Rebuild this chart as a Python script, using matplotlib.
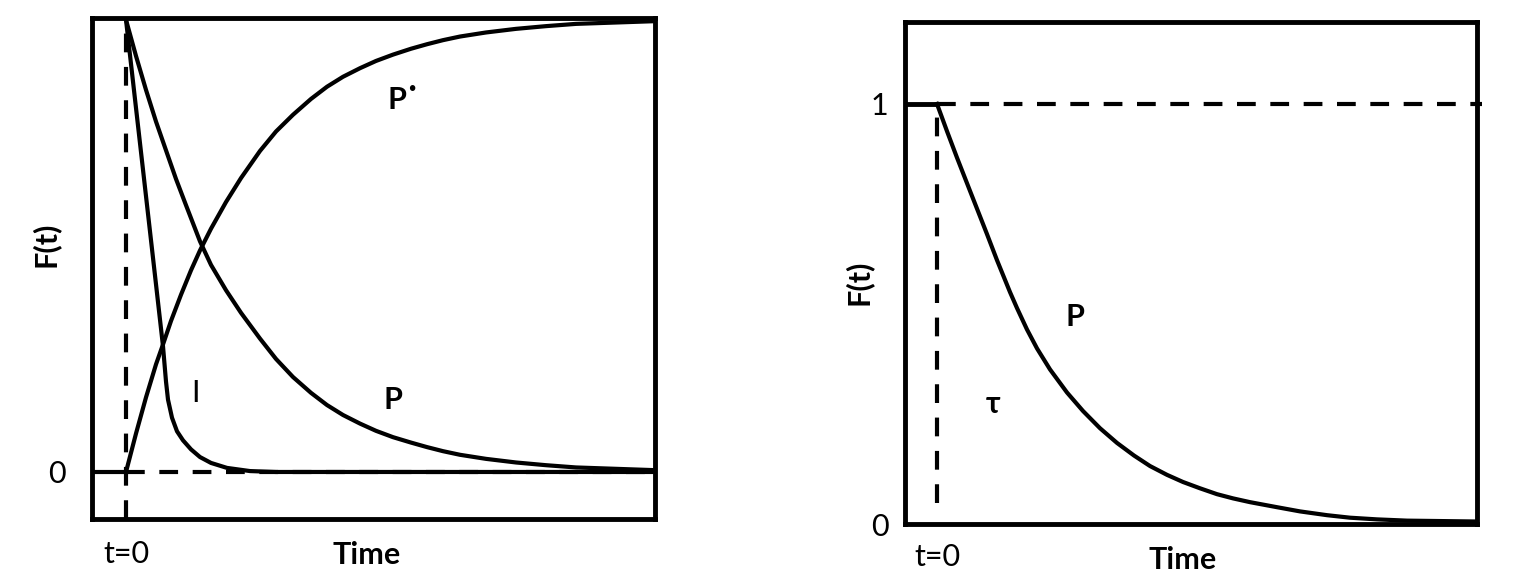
import numpy as np
import matplotlib
matplotlib.use("Agg")
import matplotlib.pyplot as plt

plt.rcParams['font.family'] = ['Lato', 'DejaVu Sans']

# left panel: values (time in arbitrary units, t=0 at the dashed line)
t_pstar = [0.0, 0.1, 0.2, 0.3, 0.37, 0.45, 0.55, 0.65, 0.74, 0.85, 1.0, 1.15, 1.34, 1.5,
           1.67, 1.85, 2.01, 2.17, 2.34, 2.5, 2.67, 2.85, 3.01, 3.17, 3.34, 3.6, 3.9, 4.2, 4.5, 5.29]
f_pstar = [0.0, 0.085, 0.165, 0.238, 0.282, 0.334, 0.392, 0.446, 0.49, 0.538, 0.597, 0.65, 0.71, 0.753,
           0.79, 0.825, 0.852, 0.874, 0.893, 0.909, 0.923, 0.936, 0.946, 0.955, 0.963, 0.972, 0.98, 0.986, 0.991, 0.997]

t_p = [0.0, 0.1, 0.2, 0.3, 0.41, 0.5, 0.6, 0.74, 0.85, 1.0, 1.15, 1.34, 1.5, 1.67, 1.85, 2.01,
       2.17, 2.34, 2.5, 2.67, 2.85, 3.01, 3.17, 3.34, 3.6, 3.9, 4.2, 4.5, 5.29]
f_p = [1.0, 0.92, 0.845, 0.775, 0.705, 0.648, 0.59, 0.51, 0.458, 0.402, 0.352, 0.295, 0.25, 0.21, 0.175, 0.148,
       0.126, 0.107, 0.091, 0.077, 0.065, 0.055, 0.046, 0.038, 0.029, 0.021, 0.015, 0.010, 0.004]

t_i = [0.0, 0.1, 0.2, 0.3, 0.37, 0.40, 0.42, 0.46, 0.51, 0.57, 0.65, 0.74, 0.85, 1.01, 1.24, 1.5, 5.29]
f_i = [1.0, 0.805, 0.61, 0.415, 0.278, 0.2, 0.16, 0.12, 0.09, 0.07, 0.05, 0.033, 0.02, 0.009, 0.002, 0.0, 0.0]

# right panel
t_r = [0.0, 0.1, 0.2, 0.33, 0.5, 0.6, 0.73, 0.8, 0.9, 1.0, 1.13, 1.3, 1.46, 1.63, 1.8, 1.97, 2.13, 2.3,
       2.46, 2.63, 2.8, 2.96, 3.13, 3.4, 3.63, 3.9, 4.13, 4.4, 4.7, 5.38]
f_r = [1.0, 0.935, 0.872, 0.793, 0.69, 0.628, 0.552, 0.514, 0.463, 0.418, 0.368, 0.313, 0.269, 0.228, 0.193,
       0.163, 0.138, 0.117, 0.10, 0.085, 0.071, 0.061, 0.052, 0.040, 0.030, 0.021, 0.015, 0.011, 0.008, 0.006]

lw_spine = 3.5
lw_curve = 3.0
dash = (0, (4.5, 3.5))
fs = 22

fig = plt.figure(figsize=(15.36, 5.78), dpi=100)
ax1 = fig.add_axes([92 / 1536, (578 - 519) / 578, (655 - 92) / 1536, (519 - 18) / 578])
ax2 = fig.add_axes([905 / 1536, (578 - 524) / 578, (1477 - 905) / 1536, (524 - 22) / 578])

# ---- left
ax1.set_xlim(-0.34, 5.29)
ax1.set_ylim(-0.104, 1.004)
ax1.plot([0, 0], [-0.104, 1.0], ls=dash, color='black', lw=lw_curve)
ax1.plot([-0.34, 0], [0, 0], color='black', lw=lw_curve)
ax1.plot([0, 5.29], [0, 0], ls=dash, color='black', lw=lw_curve)
ax1.plot(t_pstar, f_pstar, color='black', lw=lw_curve)
ax1.plot(t_p, f_p, color='black', lw=lw_curve)
ax1.plot(t_i, f_i, color='black', lw=lw_curve)

ax1.set_xticks([0])
ax1.set_xticklabels(['t=0'])
ax1.set_yticks([0])
ax1.set_yticklabels(['0'])
ax1.tick_params(axis='y', pad=19)
ax1.tick_params(axis='x', pad=15)
ax1.text(0.488, -0.072, 'Time', transform=ax1.transAxes, fontweight='bold', fontsize=fs,
         ha='center', va='center')
ax1.text(-0.083, 0.548, 'F(t)', transform=ax1.transAxes, fontweight='bold', fontsize=fs,
         rotation=90, ha='center', va='center')

ax1.text(2.71, 0.823, 'P', fontweight='bold', fontsize=fs, ha='center', va='center')
ax1.text(2.86, 0.85, '•', fontweight='bold', fontsize=9, ha='center', va='center')
ax1.text(2.67, 0.159, 'P', fontweight='bold', fontsize=fs, ha='center', va='center')
ax1.text(0.69, 0.175, 'I', fontsize=fs, ha='center', va='center')

# ---- right
ax2.set_xlim(-0.32, 5.4)
ax2.set_ylim(0, 1.195)
ax2.plot([0, 0], [0.05, 1.0], ls=dash, color='black', lw=lw_curve)
ax2.plot([0, 5.45], [1, 1], ls=dash, color='black', lw=lw_curve, clip_on=False)
ax2.plot([-0.32, 0], [1, 1], color='black', lw=lw_spine)
ax2.plot(t_r, f_r, color='black', lw=lw_curve)

ax2.set_xticks([0])
ax2.set_xticklabels(['t=0'])
ax2.set_yticks([0, 1])
ax2.set_yticklabels(['0', '1'])
ax2.tick_params(axis='y', pad=12)
ax2.tick_params(axis='x', pad=14)
ax2.text(0.486, -0.071, 'Time', transform=ax2.transAxes, fontweight='bold', fontsize=fs,
         ha='center', va='center')
ax2.text(-0.082, 0.481, 'F(t)', transform=ax2.transAxes, fontweight='bold', fontsize=fs,
         rotation=90, ha='center', va='center')

ax2.text(1.38, 0.493, 'P', fontweight='bold', fontsize=fs, ha='center', va='center')
ax2.text(0.56, 0.286, 'τ', fontweight='bold', fontsize=fs, ha='center', va='center')

for ax in (ax1, ax2):
    for s in ax.spines.values():
        s.set_linewidth(lw_spine)
    ax.tick_params(length=0, labelsize=fs)

fig.savefig('out.png', dpi=100)
